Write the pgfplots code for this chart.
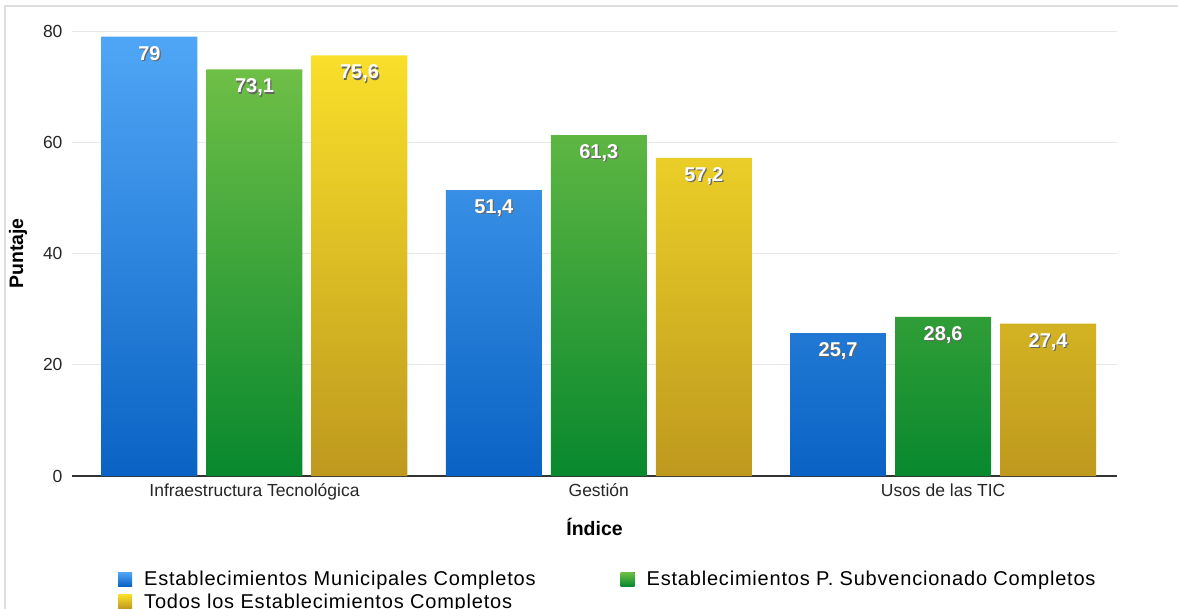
\documentclass[border=0pt]{standalone}
\usepackage{pgfplots}
\pgfplotsset{compat=1.18}
\usepackage{fontspec}
\setmainfont{Liberation Sans}
\newfontfamily\legfont[LetterSpace=4]{Liberation Sans}
\definecolor{bluetop}{RGB}{80,166,246}
\definecolor{bluebot}{RGB}{10,99,196}
\definecolor{greentop}{RGB}{110,191,70}
\definecolor{greenbot}{RGB}{8,136,46}
\definecolor{yeltop}{RGB}{249,223,42}
\definecolor{yelbot}{RGB}{190,153,30}
\newcommand\shtext[1]{\makebox[0pt][l]{\kern1.2pt\raisebox{-1.2pt}{\textcolor{black!60}{#1}}}#1}
\begin{document}
\begin{tikzpicture}
\useasboundingbox (0,0) rectangle (1178pt,-609pt);
\draw[black!13, line width=1.6pt] (5pt,-612pt) -- (5pt,-6pt) -- (1180pt,-6pt);
\begin{axis}[
  at={(72pt,-476pt)}, anchor=south west,
  scale only axis, width=1045pt, height=445pt,
  ybar=9pt, bar width=96pt,
  xmin=-0.53, xmax=2.505, ymin=0, ymax=80,
  /pgf/number format/assume math mode=true,
  xtick={0,1,2},
  xticklabels={Infraestructura Tecnológica, Gestión, Usos de las TIC},
  ytick={0,20,40,60,80},
  extra y ticks={0}, extra y tick labels={},
  extra y tick style={grid style={line width=1.8pt, black!80}},
  ymajorgrids, grid style={line width=1pt, black!9},
  axis line style={draw=none},
  major tick length=0pt,
  tick label style={font=\fontsize{17.5}{21}\selectfont, text=black!85},
  yticklabel style={xshift=-6pt},
  xticklabel style={yshift=-4pt},
  ylabel={Puntaje}, xlabel={Índice},
  label style={font=\bfseries\fontsize{19.5}{23}\selectfont},
  ylabel style={at={(axis description cs:-0.0517,0.5)}, anchor=center, rotate=0},
  xlabel style={at={(axis description cs:0.5,-0.1146)}, anchor=center},
  nodes near coords={\shtext{\pgfmathprintnumber[fixed,precision=1,use comma,assume math mode=true]{\pgfplotspointmeta}}},
  nodes near coords style={anchor=north, yshift=-6pt, text=white, font=\bfseries\fontsize{20}{24}\selectfont},
  legend columns=2,
  legend cell align=left,
  legend image code/.code={\fill[#1] (0pt,-7pt) rectangle (14pt,7pt);},
  legend style={draw=none, fill=none, inner sep=0pt,
    at={(axis description cs:0.044,-0.209)}, anchor=north west,
    font=\legfont\fontsize{20}{23}\selectfont, row sep=2.5pt,
    /tikz/every odd column/.append style={column sep=10pt},
    /tikz/every even column/.append style={column sep=83pt}},
]
\addplot[draw=none, top color=bluetop, bottom color=bluebot] coordinates {(0,79) (1,51.4) (2,25.7)};
\addplot[draw=none, top color=greentop, bottom color=greenbot] coordinates {(0,73.1) (1,61.3) (2,28.6)};
\addplot[draw=none, top color=yeltop, bottom color=yelbot] coordinates {(0,75.6) (1,57.2) (2,27.4)};
\legend{Establecimientos Municipales Completos, Establecimientos P. Subvencionado Completos, Todos los Establecimientos Completos}
\end{axis}
\end{tikzpicture}
\end{document}
